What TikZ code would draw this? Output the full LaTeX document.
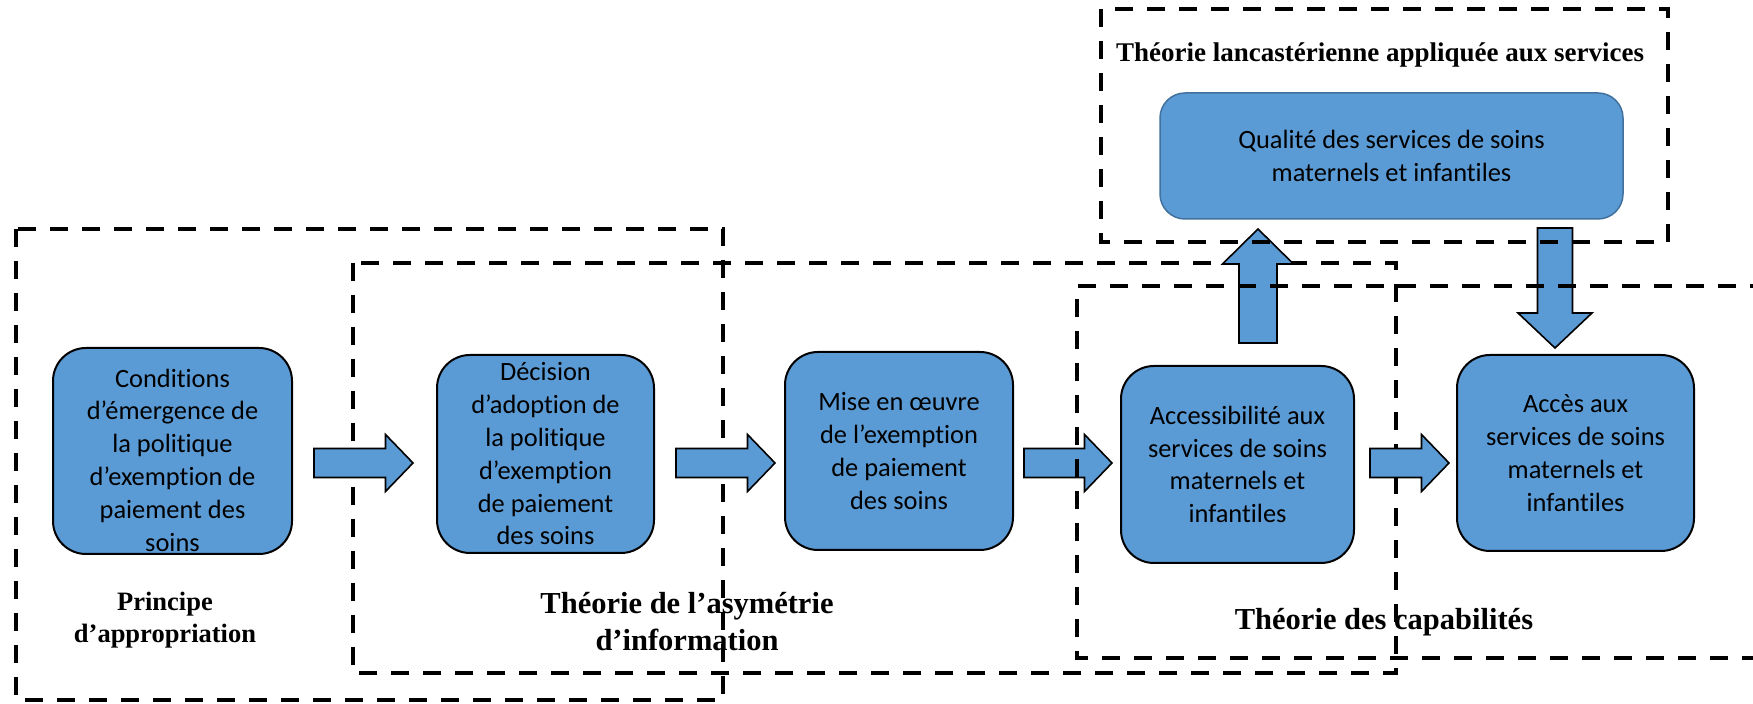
\documentclass[tikz,border=0pt]{standalone}
\usepackage{fontspec}
\setmainfont{Carlito}[Ligatures=NoCommon]
\newfontfamily\theoryfont{Liberation Serif}
\usetikzlibrary{calc}
\definecolor{boxblue}{HTML}{5B9BD5}
\definecolor{edgeblue}{HTML}{41719C}

\tikzset{
  stagetext/.style={align=center, inner sep=0pt, font={\fontsize{13.2}{16.4}\selectfont}},
  stage/.style={stagetext, draw=black, line width=1pt, fill=boxblue, rounded corners=16.5pt},
  quality/.style={stage, draw=edgeblue, line width=0.75pt, rounded corners=12.5pt},
  frame/.style={draw=black, line width=2pt, dash pattern=on 9pt off 7pt},
  theory/.style={align=center, inner sep=0pt, font={\theoryfont\bfseries\fontsize{13.25}{16}\selectfont}},
  theorybig/.style={theory, font={\theoryfont\bfseries\fontsize{15.25}{18.5}\selectfont}},
  blockarrow/.style={draw=black, line width=0.8pt, fill=boxblue, line join=miter},
}

% block arrow: tail, tip, shaft half-width, head half-width, head length, direction (x, y)
\newcommand\fatarrow[7]{%
  \draw[blockarrow]
       ($(#1)+({-(#7)*(#3)},{(#6)*(#3)})$)
    -- ($(#2)+({-(#5)*(#6)-(#3)*(#7)},{-(#5)*(#7)+(#3)*(#6)})$)
    -- ($(#2)+({-(#5)*(#6)-(#4)*(#7)},{-(#5)*(#7)+(#4)*(#6)})$)
    -- (#2)
    -- ($(#2)+({-(#5)*(#6)+(#4)*(#7)},{-(#5)*(#7)-(#4)*(#6)})$)
    -- ($(#2)+({-(#5)*(#6)+(#3)*(#7)},{-(#5)*(#7)-(#3)*(#6)})$)
    -- ($(#1)+({(#7)*(#3)},{-(#6)*(#3)})$)
    -- cycle;}

\begin{document}
\begin{tikzpicture}[x=0.5pt, y=-0.5pt]
  \path[use as bounding box] (0,0) rectangle (1753,704);
  \clip (0,0) rectangle (1753,704);

  % theory labels
  \node[theory]    (lapp) at (165,620)  {Principe\\d’appropriation};
  \node[theorybig] (lasy) at (687,622)  {Théorie de l’asymétrie\\d’information};
  \node[theorybig] (lcap) at (1384,622) {Théorie des capabilités};
  \node[theory, font={\theoryfont\bfseries\fontsize{13.5}{16}\selectfont}]
                   (llan) at (1380,55)  {Théorie lancastérienne appliquée aux services};

  % frames of the first two theories
  \draw[frame] (16,229) rectangle (723,700);
  \draw[frame] (353,263) rectangle (1396,673);

  % stages
  \node[stage, minimum width=119.5pt, minimum height=103pt] (b1) at (172.5,451) {};
  \node[stagetext] (b1text) at ($(b1)+(0,9)$)
    {Conditions\\d’émergence de\\la politique\\d’exemption de\\paiement des\\soins};
  \node[stage, minimum width=108.5pt, minimum height=99pt] (b2) at (545.5,454)
    {Décision\\d’adoption de\\la politique\\d’exemption\\de paiement\\des soins};
  \node[stage, minimum width=114pt, minimum height=99pt] (b3) at (899,451)
    {Mise en œuvre\\de l’exemption\\de paiement\\des soins};
  \node[stage, minimum width=116.5pt, minimum height=98.5pt] (b4) at (1237.5,464.5)
    {Accessibilité aux\\services de soins\\maternels et\\infantiles};
  \node[stage, minimum width=118.5pt, minimum height=98pt] (b5) at (1575.5,453)
    {Accès aux\\services de soins\\maternels et\\infantiles};
  \node[quality, minimum width=231.5pt, minimum height=63pt] (q) at (1391.5,156)
    {Qualité des services de soins\\maternels et infantiles};

  % arrow ends
  \coordinate (t12) at (314,463);  \coordinate (h12) at (413,463);
  \coordinate (t23) at (676,463);  \coordinate (h23) at (775,463);
  \coordinate (t34) at (1024,463); \coordinate (h34) at (1112,463);
  \coordinate (t45) at (1370,463); \coordinate (h45) at (1449,463);
  \coordinate (tup) at (1258,343); \coordinate (hup) at (1258,229);
  \coordinate (tdn) at (1555,228); \coordinate (hdn) at (1555,348);

  \fatarrow{t12}{h12}{14.5}{28.5}{27.5}{1}{0}
  \fatarrow{t23}{h23}{14.5}{28.5}{27.5}{1}{0}
  \fatarrow{t34}{h34}{14.5}{28.5}{27.5}{1}{0}
  \fatarrow{t45}{h45}{14.5}{28.5}{27.5}{1}{0}
  \fatarrow{tup}{hup}{19}{35.5}{35}{0}{-1}
  \fatarrow{tdn}{hdn}{17.5}{37}{35}{0}{1}

  % frames of the capabilities and Lancaster theories
  \draw[frame] (1800,286) -| (1077,658) -- (1800,658);
  \draw[frame] (1101,9) rectangle (1668,242);
\end{tikzpicture}
\end{document}
